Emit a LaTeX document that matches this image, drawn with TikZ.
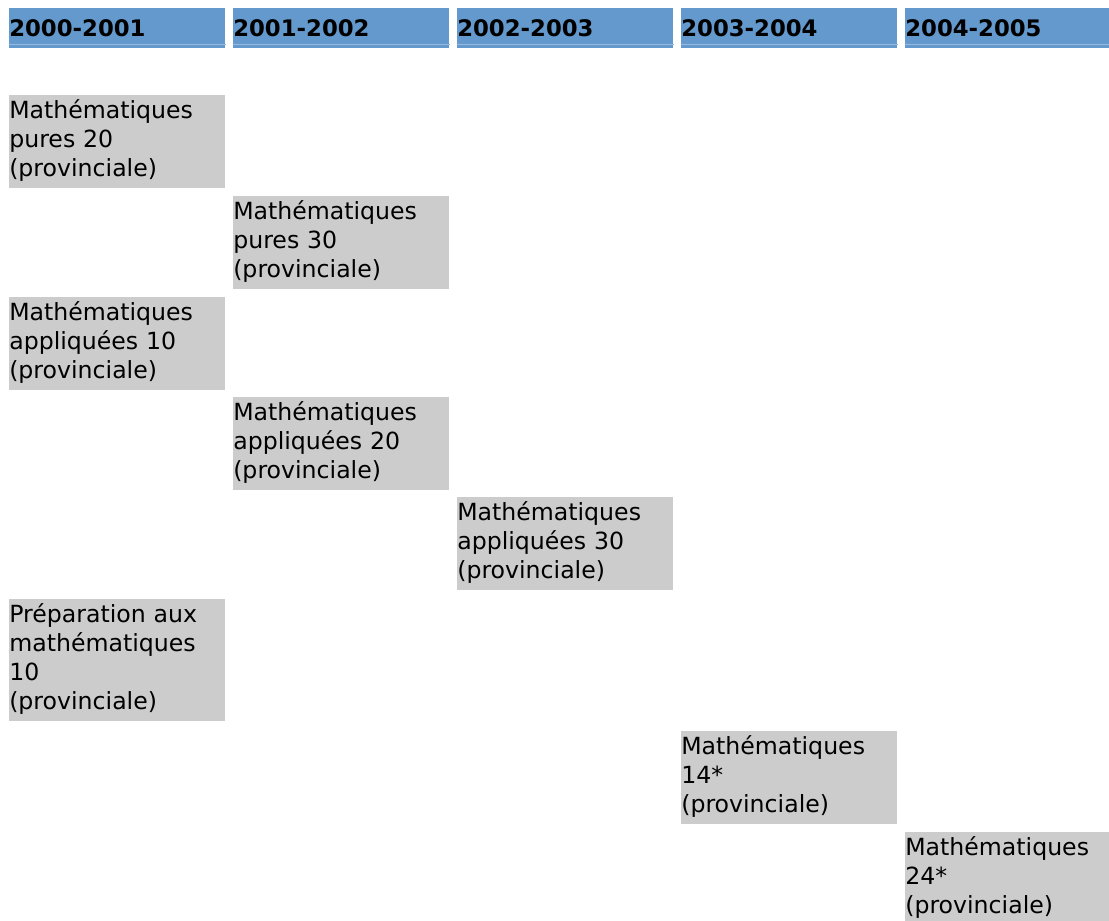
\documentclass[tikz,border=0pt]{standalone}
\usepackage{fontspec}
\setmainfont{DejaVu Sans}
\usepackage{xcolor}
\usepackage{tikz}
\definecolor{headblue}{RGB}{99,153,204}
\definecolor{headline}{RGB}{150,186,225}
\definecolor{boxgray}{RGB}{204,204,204}

\tikzset{
    yearbar/.style={fill=headblue, anchor=north west, inner sep=0pt, text width=5.4cm,
        minimum height=1cm, align=left, font=\fontsize{16.2}{20}\selectfont\bfseries},
    course/.style={fill=boxgray, anchor=north west, inner sep=0pt, text width=5.4cm,
        align=left, font=\fontsize{16.8}{20.6}\selectfont,
        execute at begin node={\rule{0pt}{16.85pt}},
        execute at end node={\rule[-8pt]{0pt}{8pt}}}
}

\begin{document}
\begin{tikzpicture}[x=0.025cm, y=-0.025cm]
    \useasboundingbox (0,0) rectangle (1109,920);

    % school years
    \node[yearbar] (y2000) at (9,8) {2000-2001};
    \node[yearbar] (y2001) at (233,8) {2001-2002};
    \node[yearbar] (y2002) at (457,8) {2002-2003};
    \node[yearbar] (y2003) at (681,8) {2003-2004};
    \node[yearbar] (y2004) at (905,8) {2004-2005};
    \foreach \n in {y2000,y2001,y2002,y2003,y2004}
        \draw[headline, line width=0.025cm] ([yshift=0.11cm]\n.south west) -- ([yshift=0.11cm]\n.south east);

    % courses
    \node[course] (pure20) at (9,95) {Mathématiques\\pures 20\\(provinciale)};
    \node[course] (pure30) at (233,196) {Mathématiques\\pures 30\\(provinciale)};
    \node[course] (appl10) at (9,297) {Mathématiques\\appliquées 10\\(provinciale)};
    \node[course] (appl20) at (233,397) {Mathématiques\\appliquées 20\\(provinciale)};
    \node[course] (appl30) at (457,497) {Mathématiques\\appliquées 30\\(provinciale)};
    \node[course] (prep10) at (9,599) {Préparation aux\\mathématiques\\10\\(provinciale)};
    \node[course] (math14) at (681,731) {Mathématiques\\14*\\(provinciale)};
    \node[course] (math24) at (905,832) {Mathématiques\\24*\\(provinciale)};
\end{tikzpicture}
\end{document}
